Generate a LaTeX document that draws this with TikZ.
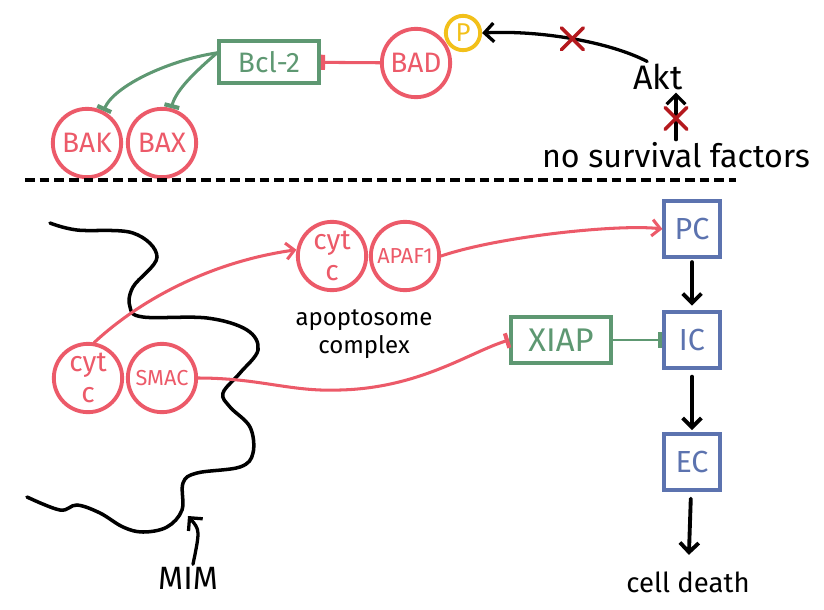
\documentclass[tikz,border=0pt]{standalone}
\usepackage{fontspec}
\setmainfont{Fira Sans}
\usetikzlibrary{arrows.meta,shapes.misc}

\definecolor{protred}{RGB}{236,90,105}
\definecolor{inhgreen}{RGB}{94,152,114}
\definecolor{caspblue}{RGB}{92,115,175}
\definecolor{phosyellow}{RGB}{242,192,26}
\definecolor{crossred}{RGB}{180,25,30}

\begin{document}
\begin{tikzpicture}[x=0.03cm,y=-0.03cm,line cap=round,
    prot/.style={circle,draw=protred,line width=3.3pt,minimum size=2.05cm,inner sep=0pt,text=protred,align=center,font=\fontsize{24}{26}\selectfont},
    inhbox/.style={rectangle,draw=inhgreen,line width=3.3pt,minimum width=3cm,text=inhgreen,font=\fontsize{24}{26}\selectfont},
    casp/.style={rectangle,draw=caspblue,line width=3.3pt,minimum size=1.66cm,text=caspblue,font=\fontsize{26}{28}\selectfont},
    txt/.style={inner sep=2pt,align=center,font=\fontsize{23.5}{25}\selectfont},
    xmark/.style={cross out,draw=crossred,line width=3pt,minimum size=0.55cm,inner sep=0pt},
    blackarrow/.style={line width=3.3pt,-{Straight Barb[length=8pt,width=16pt]}},
    redarrow/.style={draw=protred,line width=2.6pt,-{Straight Barb[length=7pt,width=14pt]}},
    inh/.style={line width=2.6pt,-{Bar[width=13pt,line width=3.5pt]}}]
    \useasboundingbox (0,0) rectangle (824,609);

    % upper half: survival signalling
    \node (bcl) [inhbox,minimum height=1.24cm] at (269,62) {Bcl-2};
    \node (bad) [prot] at (416,63) {BAD};
    \node (phos) [circle,draw=phosyellow,line width=3.3pt,minimum size=1.03cm,inner sep=0pt,text=phosyellow,font=\fontsize{22}{24}\selectfont] at (463,33) {P};
    \node (bak) [prot] at (87,143) {BAK};
    \node (bax) [prot] at (162,143) {BAX};
    \node (akt) [txt,font=\fontsize{29}{30}\selectfont] at (658,77) {Akt};
    \node (nosurv) [txt,font=\fontsize{27.5}{30}\selectfont] at (676,155) {no survival factors};
    \draw [inh,draw=protred] (bad) -- (bcl);
    \draw [inh,draw=inhgreen] (bcl.170) .. controls (170,60) and (115,85) .. (bak.63);
    \draw [inh,draw=inhgreen] (bcl.170) .. controls (195,72) and (176,90) .. (bax.75);
    \draw [blackarrow,line width=2.8pt] (akt.125) .. controls (610,42) and (540,30) .. (phos.east)
        node [xmark,pos=.5] (cross1) {};
    \draw [blackarrow,line width=2.8pt] (nosurv.north) -- (nosurv.north |- akt.south)
        node [xmark,pos=.45] (cross2) {};

    \draw [line width=3.5pt,line cap=butt,dash pattern=on 0.29cm off 0.15cm] (25,180) -- (736,180);

    % lower half: mitochondrial pathway
    \draw [line width=3pt] plot [smooth,tension=.6] coordinates {(50,223) (77,230) (133,233) (157,257) (133,287) (130,307) (143,317) (207,318) (247,330) (258,350) (240,373) (223,393) (230,407) (250,427) (253,453) (240,467) (197,473) (183,483) (182,510) (167,527) (143,532) (123,527) (100,513) (77,505) (60,510) (27,497)};
    \node (cytl) [prot,font=\fontsize{24}{27}\selectfont] at (88,378) {cyt\\c};
    \node (smac) [prot,font=\fontsize{18.5}{20}\selectfont] at (162,378) {SMAC};
    \node (cytr) [prot,font=\fontsize{24}{27}\selectfont] at (332,256) {cyt\\c};
    \node (apaf) [prot,font=\fontsize{18.5}{20}\selectfont] at (405,256) {APAF1};
    \node (apo) [txt,font=\fontsize{20.5}{24}\selectfont] at (364,334) {apoptosome\\complex};
    \node (xiap) [inhbox,minimum height=1.4cm,font=\fontsize{28}{30}\selectfont] at (561,340) {XIAP};
    \node (pc) [casp] at (692,229) {PC};
    \node (ic) [casp] at (692,340) {IC};
    \node (ec) [casp] at (692,462) {EC};
    \node (death) [txt] at (688,582) {cell death};
    \node (mim) [txt,font=\fontsize{27.5}{30}\selectfont] at (188,578) {MIM};
    \coordinate (mimtip) at (188,516);

    \draw [redarrow] (cytl.80) .. controls (140,300) and (210,262) .. (cytr.170);
    \draw [redarrow] (apaf.east) .. controls (500,236) and (620,224) .. (pc.west);
    \draw [inh,draw=protred] (smac.east) .. controls (260,378) and (290,392) .. (340,390)
        .. controls (420,388) and (470,352) .. (xiap.west);
    \draw [inh,draw=inhgreen,line width=2pt] (xiap) -- (ic);
    \draw [blackarrow,shorten <=3pt,shorten >=4pt] (pc) -- (ic);
    \draw [blackarrow,shorten <=6pt,shorten >=2pt] (ic) -- (ec);
    \draw [blackarrow,shorten <=6pt,shorten >=12pt] (ec) -- (death);
    \draw [blackarrow,line width=2.8pt] (mim.70) .. controls (200,530) .. (mimtip);
\end{tikzpicture}
\end{document}
